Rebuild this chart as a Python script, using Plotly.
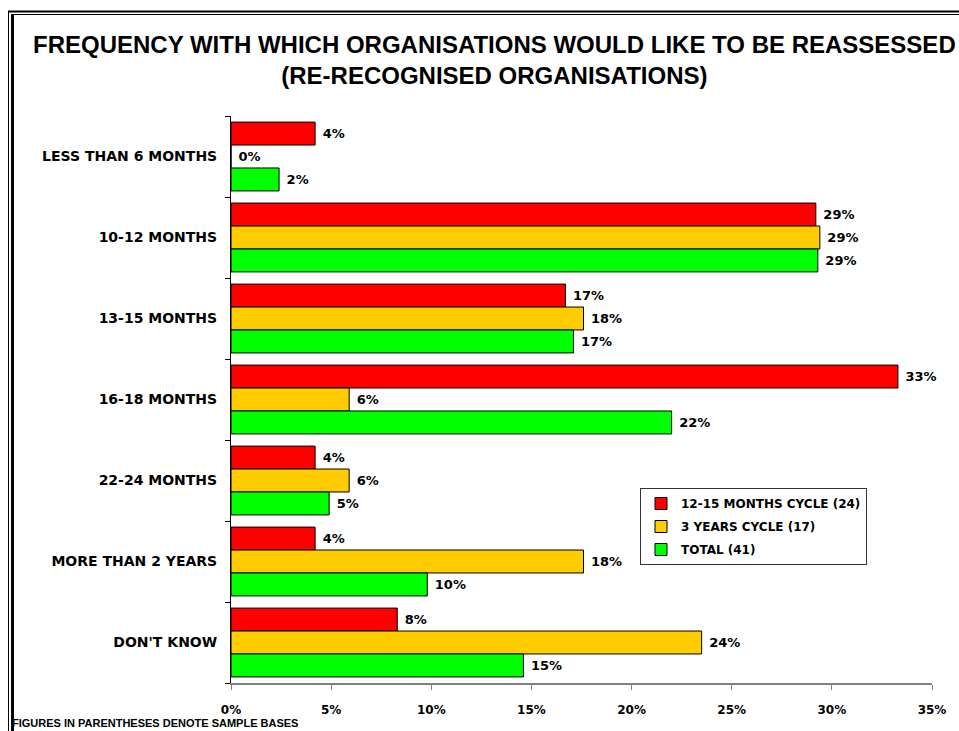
import plotly.graph_objects as go

categories = ["LESS THAN 6 MONTHS", "10-12 MONTHS", "13-15 MONTHS", "16-18 MONTHS",
              "22-24 MONTHS", "MORE THAN 2 YEARS", "DON'T KNOW"]
series_names = ["12-15 MONTHS CYCLE (24)", "3 YEARS CYCLE (17)", "TOTAL (41)"]
cycle_12_15 = [4.2, 29.2, 16.7, 33.3, 4.2, 4.2, 8.3]
cycle_3y = [0.0, 29.4, 17.6, 5.9, 5.9, 17.6, 23.5]
total = [2.4, 29.3, 17.1, 22.0, 4.9, 9.8, 14.6]
x_ticks = [0, 5, 10, 15, 20, 25, 30, 35]
x_tick_labels = ["0%", "5%", "10%", "15%", "20%", "25%", "30%", "35%"]
colors = ["#FF0000", "#FFCC00", "#00FF00"]

W, H = 959, 731
L, R, T, B = 231, 932, 116, 683  # plot area in pixels

def px(x):
    return (x - L) / (R - L)

def py(y):
    return (B - y) / (B - T)

label_font = dict(family="DejaVu Sans", size=13, color="black")

fig = go.Figure()
for i, (name, vals, col) in enumerate(zip(series_names, [cycle_12_15, cycle_3y, total], colors)):
    fig.add_trace(go.Bar(
        y=categories, x=vals, name="<b>%s</b>" % name, orientation="h",
        legendgroup="g%d" % i,
        marker=dict(color=col, line=dict(color="black", width=1)),
        text=vals, texttemplate="<b>\u00a0%{x:.0f}%</b>", textposition="outside",
        textfont=label_font, cliponaxis=False,
    ))

shapes = [
    # outer frame (double line)
    dict(type="line", xref="paper", yref="paper", x0=px(8), x1=px(W + 5), y0=py(11.5), y1=py(11.5),
         line=dict(color="black", width=2)),
    dict(type="line", xref="paper", yref="paper", x0=px(12), x1=px(W + 5), y0=py(14.5), y1=py(14.5),
         line=dict(color="black", width=1)),
    dict(type="line", xref="paper", yref="paper", x0=px(8.5), x1=px(8.5), y0=py(11), y1=py(H + 5),
         line=dict(color="black", width=1)),
    dict(type="line", xref="paper", yref="paper", x0=px(12.5), x1=px(12.5), y0=py(14), y1=py(H + 5),
         line=dict(color="black", width=3)),
]

annotations = [
    dict(text="<b>FREQUENCY WITH WHICH ORGANISATIONS WOULD LIKE TO BE REASSESSED<br>(RE-RECOGNISED ORGANISATIONS)</b>",
         xref="paper", yref="paper", x=px(494), y=py(60), xanchor="center", yanchor="middle",
         showarrow=False, font=dict(family="Liberation Sans", size=24, color="black"),
         align="center"),
    dict(text="<b>FIGURES IN PARENTHESES DENOTE SAMPLE BASES</b>",
         xref="paper", yref="paper", x=px(10), y=py(723), xanchor="left", yanchor="middle",
         showarrow=False, font=dict(family="Liberation Sans", size=11, color="black")),
]

fig.update_layout(
    width=W, height=H,
    margin=dict(l=L, r=W - R, t=T, b=H - B, pad=0),
    paper_bgcolor="white", plot_bgcolor="white",
    barmode="group", bargap=0.15, bargroupgap=0,
    showlegend=True,
    legend=dict(x=px(640), y=py(488), xanchor="left", yanchor="top",
                bgcolor="white", bordercolor="#333333", borderwidth=1,
                font=dict(family="DejaVu Sans", size=12, color="black"),
                itemwidth=30, tracegroupgap=4, traceorder="grouped"),
    xaxis=dict(range=[0, 35], tickvals=x_ticks, ticktext=["<b>%s</b>" % t for t in x_tick_labels],
               showgrid=False, zeroline=False, showline=True, linecolor="#808080", linewidth=2,
               ticks="outside", ticklen=5, tickcolor="#808080", tickwidth=1,
               tickfont=dict(family="DejaVu Sans", size=12, color="black"),
               ticklabelstandoff=10, fixedrange=True),
    yaxis=dict(categoryorder="array", categoryarray=categories, autorange="reversed",
               tickvals=categories, ticktext=["<b>%s</b>" % c for c in categories],
               showgrid=False, zeroline=False, showline=True, linecolor="black", linewidth=1,
               ticks="outside", tickson="boundaries", ticklen=5, tickcolor="black",
               tickfont=dict(family="DejaVu Sans", size=14, color="black"),
               ticklabelstandoff=10, fixedrange=True),
    shapes=shapes, annotations=annotations,
)

fig.write_html("out.html")
